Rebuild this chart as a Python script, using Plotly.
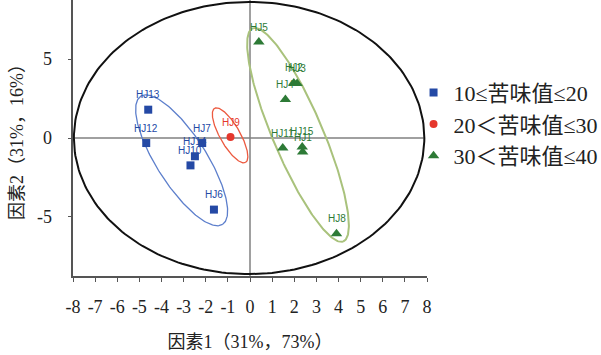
import numpy as np
import plotly.graph_objects as go

# ---- data ----
g1_names = ["HJ13", "HJ12", "HJ7", "HJ14", "HJ10", "HJ6"]
g1_x = [-4.60, -4.69, -2.16, -2.49, -2.69, -1.63]
g1_y = [1.80, -0.32, -0.32, -1.16, -1.74, -4.55]

g2_names = ["HJ9"]
g2_x = [-0.88]
g2_y = [0.06]

g3_names = ["HJ5", "HJ2", "HJ3", "HJ4", "HJ11", "HJ15", "HJ1", "HJ8"]
g3_x = [0.40, 1.98, 2.13, 1.60, 1.48, 2.36, 2.38, 3.91]
g3_y = [6.10, 3.50, 3.46, 2.44, -0.64, -0.57, -0.89, -6.08]

legend_names = ["10≤苦味值≤20", "20＜苦味值≤30", "30＜苦味值≤40"]

# confidence ellipses: centre, two conjugate half-axis vectors (data units)
ell_blue = dict(c=(-3.09, -1.42), u=(1.85, -4.07), v=(0.948, 0.858))
ell_red = dict(c=(-0.90, 0.17), u=(0.70, -1.72), v=(0.393, 0.318))
ell_green = dict(c=(2.17, 0.20), u=(2.05, -6.77), v=(1.04, 0.62))
ell_total = dict(c=(-0.04, 0.0), u=(7.92, 0.0), v=(0.0, 8.65))

x_ticks = list(range(-8, 9))
x_ticktext = [str(v) for v in x_ticks]
y_ticks = [-5, 0, 5]
y_ticktext = [str(v) for v in y_ticks]
y_range = [-8.77, 8.77]
x_title = "因素1（31%，73%）"
y_title = "因素2（31%，16%）"

# ---- styles ----
BLUE, RED, GREEN = "#2449a5", "#e5372c", "#2d7a36"
SERIF = "'Liberation Serif', 'Times New Roman', 'Noto Sans CJK SC'"
NARROW = "'Liberation Sans Narrow', 'Liberation Sans', Arial"
TXT = "#222"


def ellipse(p, n=241):
    t = np.linspace(0, 2 * np.pi, n)
    cx, cy = p["c"]
    ux, uy = p["u"]
    vx, vy = p["v"]
    return cx + ux * np.cos(t) + vx * np.sin(t), cy + uy * np.cos(t) + vy * np.sin(t)


fig = go.Figure()

for p, col, w in [(ell_total, "#111111", 2.0), (ell_blue, "#5d7fcc", 1.3),
                  (ell_red, "#ec5a40", 1.3), (ell_green, "#a9c27c", 2.0)]:
    ex, ey = ellipse(p)
    fig.add_trace(go.Scatter(x=ex, y=ey, mode="lines", line=dict(color=col, width=w),
                             showlegend=False, hoverinfo="skip"))

groups = [
    (g1_names, g1_x, g1_y, BLUE, "square", 8, legend_names[0]),
    (g2_names, g2_x, g2_y, RED, "circle", 8, legend_names[1]),
    (g3_names, g3_x, g3_y, GREEN, "triangle-up", 10, legend_names[2]),
]

annotations = []
for names, xs, ys, col, sym, sz, lname in groups:
    fig.add_trace(go.Scatter(x=xs, y=ys, mode="markers", name=lname, text=names,
                             marker=dict(color=col, symbol=sym, size=sz, line=dict(width=0))))
    for n, xv, yv in zip(names, xs, ys):
        annotations.append(dict(x=xv, y=yv, text=n, showarrow=False, yshift=15,
                                font=dict(family=NARROW, size=10, color=col)))

# y tick labels, set 20 px left of the axis line
for v, t in zip(y_ticks, y_ticktext):
    annotations.append(dict(xref="paper", x=0, y=v, yref="y", text=t, showarrow=False,
                            xanchor="right", xshift=-19,
                            font=dict(family=SERIF, size=18, color=TXT)))
# y axis title
annotations.append(dict(xref="paper", yref="paper", x=0, y=0.5, text=y_title,
                        showarrow=False, textangle=-90, xanchor="center", yanchor="middle",
                        xshift=-56, font=dict(family=SERIF, size=18, color=TXT)))

shapes = [
    dict(type="line", xref="x", yref="y", x0=-8, x1=7.85, y0=0, y1=0,
         line=dict(color="#808080", width=1.5), layer="below"),
    dict(type="line", xref="x", yref="paper", x0=0, x1=0, y0=0, y1=1,
         line=dict(color="#808080", width=1.5), layer="below"),
]

fig.update_layout(
    width=601, height=355,
    margin=dict(l=73, r=174, t=0, b=79, autoexpand=False),
    paper_bgcolor="white", plot_bgcolor="white",
    annotations=annotations, shapes=shapes,
    showlegend=True,
    legend=dict(x=0.962, xanchor="left", y=0.55, yanchor="middle",
                font=dict(family=SERIF, size=22, color=TXT),
                bgcolor="rgba(0,0,0,0)", itemwidth=30, tracegroupgap=0),
    xaxis=dict(range=[-8, 8], tickvals=x_ticks, ticktext=x_ticktext,
               showgrid=False, zeroline=False, automargin=False,
               showline=True, linecolor="#555", linewidth=1.5,
               ticks="outside", ticklen=4, tickcolor="#555", tickwidth=1,
               ticklabelstandoff=10,
               tickfont=dict(family=SERIF, size=18, color=TXT),
               title=dict(text=x_title, standoff=19,
                          font=dict(family=SERIF, size=18, color=TXT))),
    yaxis=dict(range=y_range, tickvals=y_ticks, showticklabels=False,
               showgrid=False, zeroline=False, automargin=False,
               showline=True, linecolor="#555", linewidth=1.5,
               ticks="outside", ticklen=3, tickcolor="#555", tickwidth=1),
)

fig.write_html("out.html")
